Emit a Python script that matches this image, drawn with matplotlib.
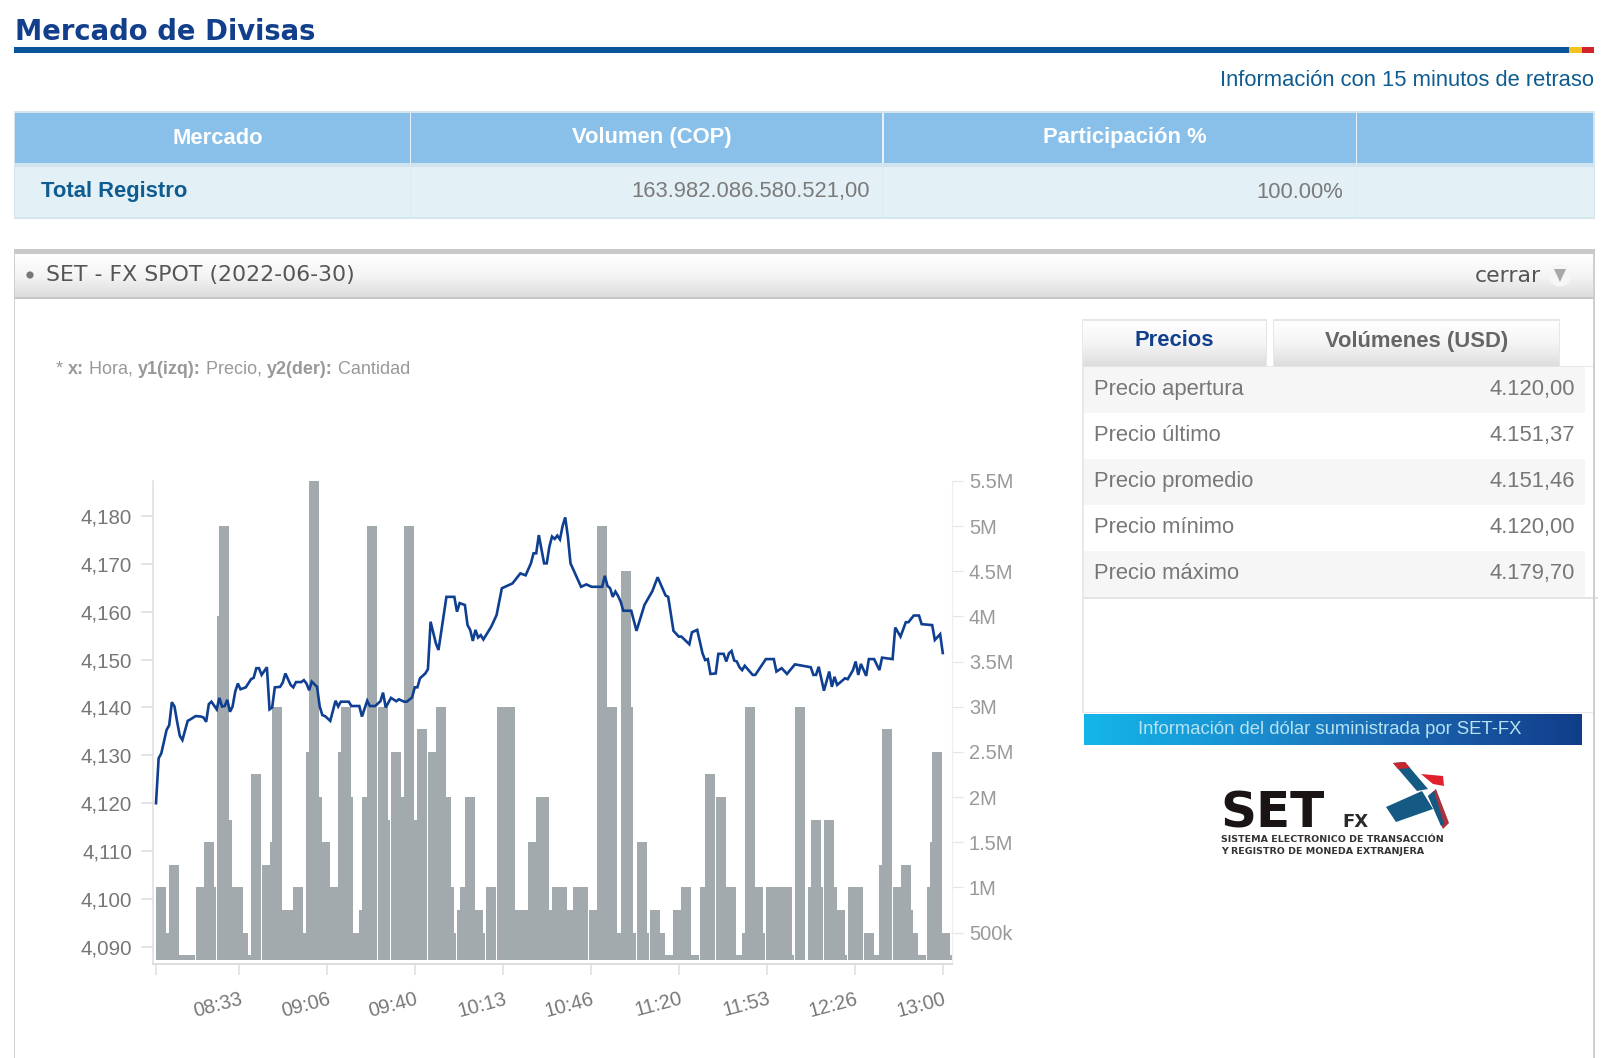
import matplotlib
matplotlib.use("Agg")
import matplotlib.pyplot as plt
import numpy as np
from matplotlib.colors import LinearSegmentedColormap
from matplotlib.patches import Polygon, Rectangle, Circle

# minutes after 08:02
price_minutes = [0, 1, 2, 3, 4, 5, 6, 7, 8, 9, 10, 11, 12, 13, 15, 17, 18, 19, 20, 21, 23, 24, 25, 26, 27, 28, 29, 30,
                 31, 32, 34, 36, 37, 38, 39, 40, 42, 43, 44, 45, 47, 48, 49, 50, 51, 52, 53, 55, 56, 57, 58, 59, 61,
                 62, 63, 64, 66, 68, 69, 70, 73, 74, 77, 78, 80, 81, 83, 85, 86, 87, 89, 91, 92, 94, 95, 97, 98, 99,
                 100, 102, 103, 104, 106, 107, 110, 113, 114, 115, 117, 118, 119, 120, 121, 122, 123, 124, 125, 127,
                 129, 131, 133, 135, 138, 140, 142, 143, 144, 145, 147, 148, 149, 150, 151, 152, 153, 154, 155, 156,
                 157, 161, 163, 165, 169, 170, 171, 172, 173, 174, 175, 176, 177, 180, 182, 185, 188, 190, 193, 194,
                 196, 198, 199, 202, 203, 205, 207, 208, 209, 210, 212, 213, 215, 216, 217, 218, 219, 220, 221, 222,
                 223, 226, 227, 231, 234, 235, 237, 239, 242, 248, 249, 250, 251, 253, 255, 256, 257, 258, 261, 262,
                 264, 265, 266, 267, 269, 270, 272, 274, 275, 279, 280, 282, 284, 285, 287, 289, 290, 294, 295, 297,
                 298]
prices = [4120.0, 4129.4, 4130.4, 4132.9, 4135.3, 4136.3, 4141.1, 4140.2, 4137.0, 4134.1, 4133.2, 4135.2, 4137.2,
          4137.5, 4138.2, 4138.1, 4137.9, 4137.0, 4140.7, 4141.2, 4139.6, 4142.0, 4140.2, 4140.3, 4141.6, 4139.1,
          4140.2, 4143.3, 4145.0, 4143.8, 4144.2, 4145.9, 4146.2, 4148.2, 4148.2, 4146.8, 4148.4, 4139.6, 4140.0,
          4144.2, 4144.3, 4145.2, 4147.1, 4145.9, 4144.7, 4144.2, 4145.3, 4145.3, 4145.7, 4145.0, 4143.6, 4145.4,
          4144.3, 4140.2, 4138.4, 4138.2, 4137.2, 4141.4, 4140.2, 4141.2, 4141.2, 4140.3, 4140.3, 4138.1, 4141.4,
          4140.3, 4140.3, 4141.3, 4143.1, 4140.0, 4142.0, 4141.3, 4141.7, 4141.2, 4141.2, 4142.1, 4144.2, 4144.2,
          4146.1, 4147.1, 4148.0, 4157.9, 4153.4, 4152.0, 4163.1, 4163.1, 4160.0, 4161.8, 4161.4, 4157.2, 4156.2,
          4153.9, 4156.2, 4154.6, 4155.1, 4154.2, 4155.1, 4156.9, 4159.3, 4164.9, 4165.4, 4165.9, 4168.0, 4167.6,
          4170.1, 4172.2, 4172.2, 4176.0, 4170.1, 4170.1, 4173.6, 4175.7, 4175.2, 4175.9, 4175.1, 4177.9, 4179.7,
          4175.7, 4170.1, 4165.2, 4165.7, 4165.2, 4165.2, 4167.5, 4165.4, 4164.9, 4163.1, 4164.2, 4163.3, 4162.1,
          4160.2, 4160.2, 4156.0, 4161.4, 4164.3, 4167.2, 4163.4, 4163.1, 4156.0, 4154.8, 4154.8, 4153.2, 4155.7,
          4156.2, 4151.3, 4149.9, 4150.1, 4147.0, 4147.1, 4151.2, 4151.2, 4149.6, 4151.3, 4151.8, 4149.8, 4149.6,
          4148.4, 4147.8, 4148.7, 4146.8, 4146.8, 4150.1, 4150.1, 4147.5, 4148.2, 4147.0, 4149.0, 4148.4, 4146.8,
          4146.8, 4148.5, 4143.5, 4147.5, 4144.3, 4146.4, 4144.7, 4146.1, 4145.9, 4147.8, 4149.6, 4146.8, 4149.1,
          4146.6, 4150.1, 4150.1, 4147.8, 4150.4, 4150.1, 4156.7, 4154.8, 4157.8, 4157.8, 4159.2, 4159.2, 4157.4,
          4157.2, 4154.1, 4155.3, 4151.37]

bar_minutes = [0, 1, 5, 8, 11, 15, 18, 19, 23, 24, 25, 28, 29, 31, 34, 36, 40, 43, 44, 47, 49, 52, 53, 57, 58, 59, 62,
               65, 69, 70, 71, 74, 77, 78, 80, 84, 85, 89, 90, 94, 95, 99, 103, 106, 108, 109, 110, 114, 115, 117,
               120, 121, 125, 129, 132, 136, 137, 141, 144, 145, 148, 150, 152, 154, 158, 160, 164, 167, 171, 174,
               176, 177, 178, 182, 183, 187, 189, 192, 196, 199, 202, 206, 208, 212, 216, 219, 222, 223, 226, 227,
               231, 234, 237, 238, 242, 247, 248, 249, 253, 254, 257, 258, 262, 264, 268, 270, 274, 275, 279, 282,
               283, 285, 288, 292, 293, 294, 297, 298]
bar_volumes = [1, .5, 1.25, .25, .25, 1, 1.5, 1, 4, 5, 1.75, 1, 1, .5, .25, 2.25, 1.25, 1.5, 3, .75, .75, 1, .5, 2.5,
               5.5, 2, 1.5, 1, 2.5, 3, 2, .5, .75, 2, 5, 3, 1.75, 2.5, 2, 5, 1.75, 2.75, 2.5, 3, 2, 1, .5, .75, 1, 2,
               .75, .5, 1, 3, 3, .75, .75, 1.5, 2, 2, .75, 1, 1, .75, 1, 1, .75, 5, 3, .5, 4.5, 3, .5, 1.5, .5, .75,
               .5, .25, .75, 1, .25, 1, 2.25, 2, 1, .25, .5, 3, 1, .5, 1, 1, 1, .25, 3, 1, 1.75, 1, 1.75, 1, .75, .25,
               1, 1, .5, .25, 1.25, 2.75, 1, 1.25, .75, .5, .25, 1, 1.5, 2.5, .5, .25]

x_tick_minutes = [0, 31.5, 64.9, 98.2, 131.6, 164.9, 198.2, 231.6, 264.8, 298]
x_tick_labels = ["", "08:33", "09:06", "09:40", "10:13", "10:46", "11:20", "11:53", "12:26", "13:00"]
price_ticks = [4090, 4100, 4110, 4120, 4130, 4140, 4150, 4160, 4170, 4180]
volume_ticks = [.5, 1, 1.5, 2, 2.5, 3, 3.5, 4, 4.5, 5, 5.5]
volume_labels = ["500k", "1M", "1.5M", "2M", "2.5M", "3M", "3.5M", "4M", "4.5M", "5M", "5.5M"]

table_headers = ["Mercado", "Volumen (COP)", "Participación %"]
table_row = ["Total Registro", "163.982.086.580.521,00", "100.00%"]
price_rows = ["Precio apertura", "Precio último", "Precio promedio", "Precio mínimo", "Precio máximo"]
price_values = ["4.120,00", "4.151,37", "4.151,46", "4.120,00", "4.179,70"]

W, H = 1609, 1058
SANS = "Liberation Sans"
VERD = "DejaVu Sans"
DPI = 100
PX = 72 / DPI  # points per pixel

plt.rcParams["font.family"] = SANS

fig = plt.figure(figsize=(W / DPI, H / DPI), dpi=DPI, facecolor="white")

# page drawn in pixel coordinates, y going down
bg = fig.add_axes([0, 0, 1, 1])
bg.axis("off")


def rect(x0, y0, x1, y1, color, z=1):
    bg.add_patch(Rectangle((x0, y0), x1 - x0, y1 - y0, facecolor=color, edgecolor="none", zorder=z))


def gradient(x0, y0, x1, y1, colors, horizontal=False, z=1):
    cmap = LinearSegmentedColormap.from_list("g", colors)
    g = np.linspace(0, 1, 256)
    g = g.reshape(1, -1) if horizontal else g.reshape(-1, 1)
    bg.imshow(g, cmap=cmap, extent=(x0, x1, y1, y0), aspect="auto", zorder=z)


def label(x, y, s, size, color, ha="left", weight="normal", family=SANS, va="center", z=5):
    return bg.text(x, y, s, fontsize=size * PX, color=color, ha=ha, va=va, fontweight=weight, family=family, zorder=z)


# title and rule
label(15, 39.5, "Mercado de Divisas", 27.5, "#123f8c", weight="bold", family=VERD, va="baseline")
rect(14, 47, 1569, 53, "#0a5499")
rect(1569, 47, 1582, 53, "#f3c122")
rect(1582, 47, 1594, 53, "#d2232a")
label(1594, 81, "Información con 15 minutos de retraso", 22, "#0f5c91", ha="right")

# market table
rect(14, 111, 1595, 219, "#d5e5ec")
rect(15, 113, 1593, 163, "#89c0e9")
rect(15, 163, 1593, 167, "#cfe4ef")
rect(15, 167, 1594, 217, "#e3f0f5")
for sep_x in [410, 882.5, 1356]:
    rect(sep_x, 113, sep_x + 1.5, 163, "#e6f1fa", z=2)
    rect(sep_x, 163, sep_x + 1, 217, "#dcebf1", z=2)
for head_x, head in zip([218, 652, 1125], table_headers):
    label(head_x, 138, head, 22, "white", ha="center", weight="bold")
label(41, 192, table_row[0], 22, "#0f5c91", weight="bold")
label(870, 192, table_row[1], 22, "#7b7b7b", ha="right")
label(1343, 192, table_row[2], 22, "#7b7b7b", ha="right")

# panel with the chart
rect(14, 249, 1595, 254, "#c9c9c9")
gradient(15, 254, 1594, 298, ["#ffffff", "#f4f4f4", "#dcdcdc"], z=1)
rect(14, 297, 1595, 299, "#c6c6c6", z=2)
rect(14, 254, 15.5, 1058, "#cfcfcf", z=2)
rect(1593, 254, 1595, 1058, "#cfcfcf", z=2)
bg.add_patch(Circle((30, 275), 3.6, facecolor="#777777", edgecolor="none", zorder=3))
label(46, 275, "SET - FX SPOT (2022-06-30)", 22, "#555555", family=VERD)
label(1541, 276, "cerrar", 22, "#555555", ha="right", family=VERD)
bg.add_patch(Circle((1560, 275), 11.5, facecolor="#f6f6f6", edgecolor="none", zorder=3))
bg.add_patch(Polygon([(1554, 269), (1566, 269), (1560, 282)], facecolor="#a8a8a8", edgecolor="none", zorder=4))

# note above the chart, pieces placed one after another
fig.canvas.draw()
note_x = 56
for piece, piece_weight in [("* ", "normal"), ("x:", "bold"), (" Hora, ", "normal"), ("y1(izq):", "bold"),
                            (" Precio, ", "normal"), ("y2(der):", "bold"), (" Cantidad", "normal")]:
    t = label(note_x, 369, piece.replace(" ", "\u00a0"), 18, "#999999", weight=piece_weight)
    note_x += t.get_window_extent(fig.canvas.get_renderer()).width

# tabs
for tx0, tx1, tab, tab_color in [(1083, 1266, "Precios", "#123f8c"), (1274, 1559, "Volúmenes (USD)", "#666666")]:
    rect(tx0 - 1, 319, tx1 + 1, 366, "#e6e6e6")
    gradient(tx0, 321, tx1, 366, ["#ffffff", "#f5f5f5", "#dddddd"], z=2)
    label((tx0 + tx1) / 2, 341, tab, 22, tab_color, ha="center", weight="bold")

# price list
row_edges = [366.5, 412.7, 458.9, 504.7, 550.8, 597]
rect(1083, 366, 1593, 367, "#e6e6e6")
for i in range(len(price_rows)):
    if i % 2 == 0:
        rect(1084, row_edges[i], 1585, row_edges[i + 1], "#f6f6f6")
    row_y = (row_edges[i] + row_edges[i + 1]) / 2
    label(1094, row_y, price_rows[i], 22, "#777777")
    label(1575, row_y, price_values[i], 22, "#777777", ha="right")
rect(1083, 597, 1598, 598.5, "#e4e4e4")
rect(1082.5, 319, 1084, 713, "#e8e8e8")
rect(1083, 711.5, 1593, 712.5, "#e8e8e8")

# banner
gradient(1084, 714, 1582, 745, ["#14b6ea", "#1a8fd0", "#1b62ad", "#103d8a"], horizontal=True, z=2)
label(1330, 730, "Información del dólar suministrada por SET-FX", 18.5, "#b5e3f2", ha="center", z=3)

# SET-FX logo
label(1220, 828, "SET", 50, "#1a1414", weight="bold", family=VERD, va="baseline")
label(1342, 827, "FX", 18, "#2a2a2a", weight="bold", family=VERD, va="baseline")
label(1221, 839, "SISTEMA ELECTRONICO DE TRANSACCIÓN", 9.5, "#333333", weight="bold", family=VERD)
label(1221, 852, "Y REGISTRO DE MONEDA EXTRANJERA", 9.5, "#333333", weight="bold", family=VERD)
for pts, col in [([(1393, 763), (1405, 762), (1428, 789), (1417, 791)], "#145a82"),
                 ([(1393, 763), (1405, 762), (1410, 768), (1398, 769)], "#c8262e"),
                 ([(1386, 807), (1422, 791), (1433, 809), (1396, 822)], "#145a82"),
                 ([(1421, 774), (1443, 776), (1444, 786), (1433, 784)], "#e0202c"),
                 ([(1428, 796), (1436, 789), (1449, 823), (1443, 829)], "#a8323e"),
                 ([(1428, 796), (1434, 791), (1444, 824), (1441, 826)], "#145a82")]:
    bg.add_patch(Polygon(pts, facecolor=col, edgecolor="none", zorder=3))

bg.set_xlim(0, W)
bg.set_ylim(H, 0)

# chart axes, pixel box 153..952 by 481..964
ax = fig.add_axes([153 / W, 1 - 964.3 / H, (952 - 153) / W, (964.3 - 481) / H])
ax_vol = ax.twinx()
ax.set_zorder(ax_vol.get_zorder() + 1)
ax.patch.set_visible(False)
ax_vol.patch.set_visible(False)

BAR_BOTTOM = 0.195
ax_vol.bar(bar_minutes, np.array(bar_volumes) - BAR_BOTTOM, bottom=BAR_BOTTOM, width=3.79, align="edge",
           color="#a3aaae", linewidth=0)
ax.plot(price_minutes, prices, color="#0f3f90", linewidth=2.4 * PX * 1.1, solid_joinstyle="miter")

ax.set_xlim(-1.14, 301.5)
ax.set_ylim(4086.35, 4187.3)
ax_vol.set_ylim(0.148, 5.5)

ax.set_yticks(price_ticks)
ax.set_yticklabels([f"{p:,}" for p in price_ticks])
ax_vol.set_yticks(volume_ticks)
ax_vol.set_yticklabels(volume_labels)
ax.set_xticks(x_tick_minutes)
ax.set_xticklabels(x_tick_labels, rotation=15, ha="right", rotation_mode="anchor")

ax.tick_params(axis="y", length=12 * PX, width=1.5 * PX, color="#dddddd", labelsize=20.5 * PX,
               labelcolor="#777777", pad=9 * PX)
ax_vol.tick_params(axis="y", length=11 * PX, width=1.2 * PX, color="#e6e6e6", labelsize=20 * PX,
                   labelcolor="#999999", pad=6 * PX)
ax.tick_params(axis="x", length=11 * PX, width=1.5 * PX, color="#dddddd", labelsize=20 * PX,
               labelcolor="#777777", pad=14 * PX)

for spine in ["top", "right"]:
    ax.spines[spine].set_visible(False)
for spine in ["top", "left", "bottom"]:
    ax_vol.spines[spine].set_visible(False)
ax.spines["left"].set_color("#dddddd")
ax.spines["left"].set_linewidth(1.5 * PX)
ax.spines["bottom"].set_color("#dddddd")
ax.spines["bottom"].set_linewidth(2 * PX)
ax_vol.spines["right"].set_color("#eeeeee")
ax_vol.spines["right"].set_linewidth(1.2 * PX)

fig.savefig("out.png", dpi=DPI)
